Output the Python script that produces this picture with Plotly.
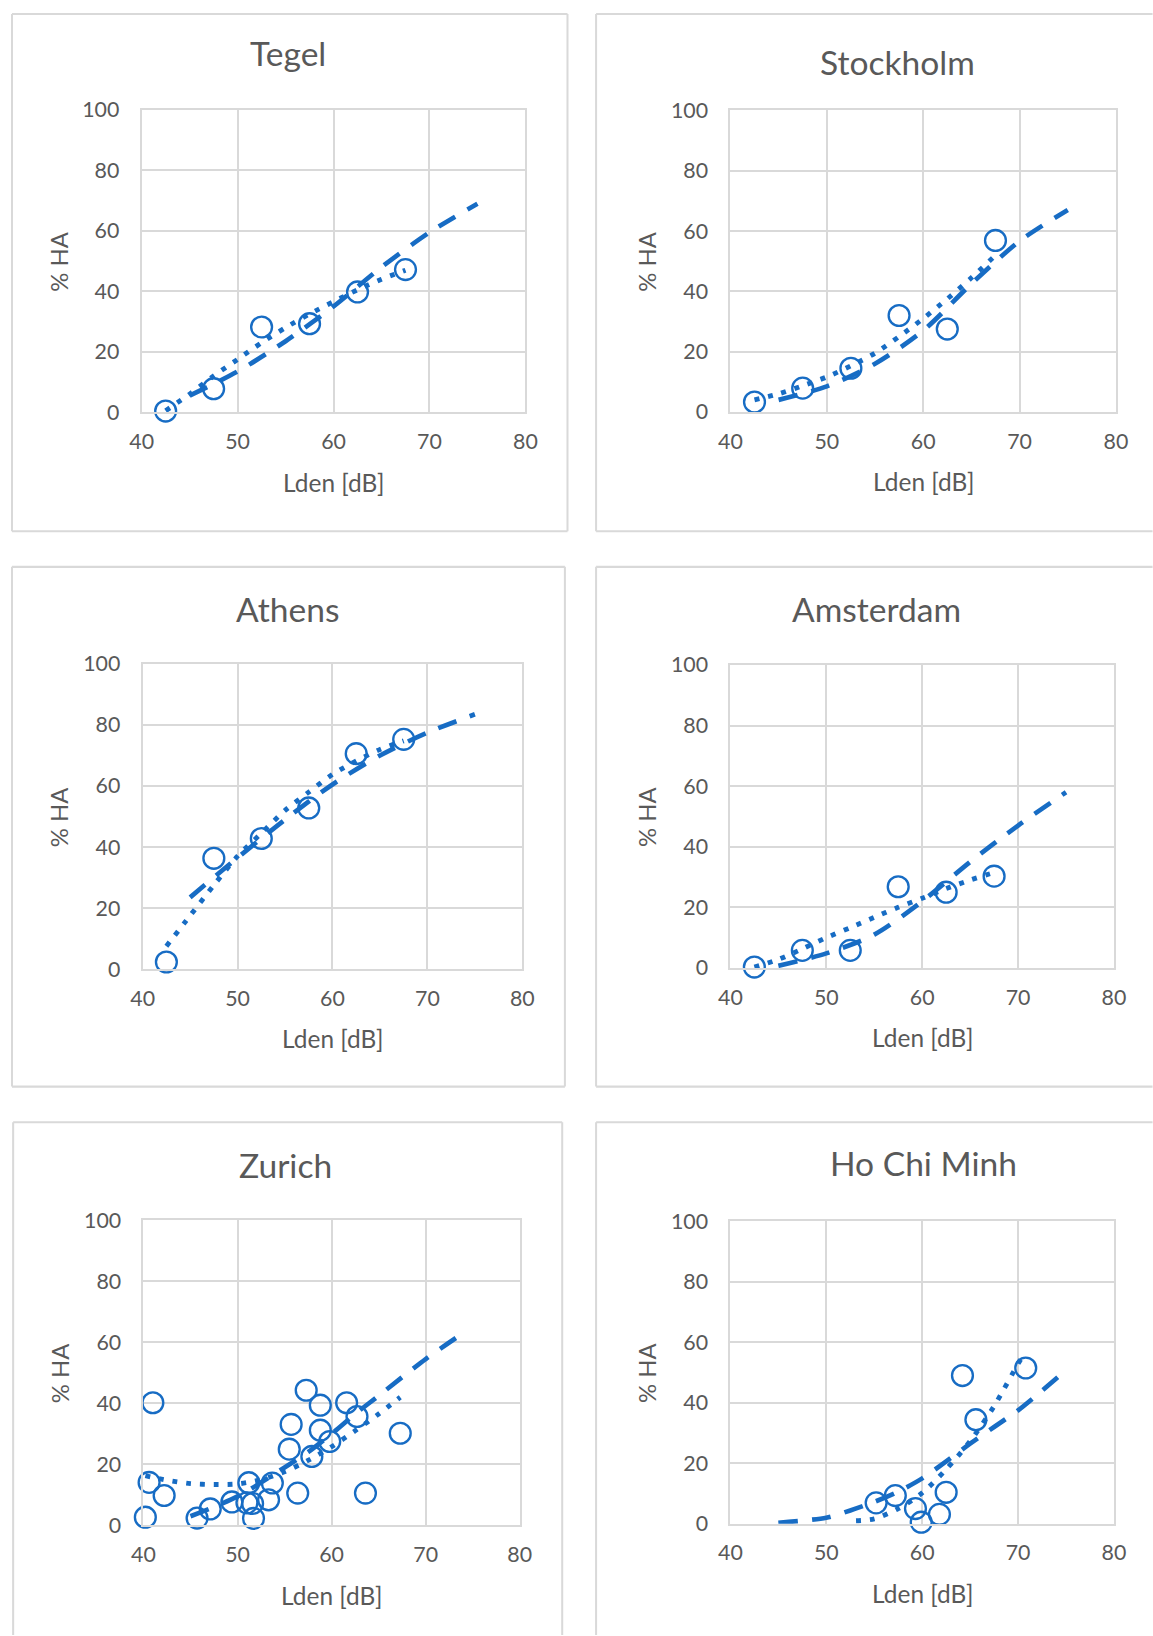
import plotly.graph_objects as go

# The photographed page shows the figure slightly reduced and offset; the
# geometry below is given in target page pixels and mapped into figure pixels.
PAGE_W, PAGE_H = 1153, 1636
SX, SY = 0.980, 0.986      # apparent reduction of the figure in the photo
M = 12                     # apparent offset of the figure origin (figure px)
SC = 1 / 0.983             # size compensation for fonts / markers / lines
W = int(round(PAGE_W / SX - M))
H = int(round(PAGE_H / SY - M))

BLUE = "#176cc4"
GRID = "#d9d9d9"
TEXT = "#595959"
FONT = "Lato"

cities = ["Tegel", "Stockholm", "Athens", "Amsterdam", "Zurich", "Ho Chi Minh"]
x_ticks = [40, 50, 60, 70, 80]
y_ticks = [0, 20, 40, 60, 80, 100]
x_label = "Lden [dB]"
y_label = "% HA"

# ---------------- Tegel ----------------
tegel_lden = [42.5, 47.5, 52.5, 57.5, 62.5, 67.5]
tegel_ha = [0.4, 7.8, 28.2, 29.3, 39.8, 47.2]
tegel_dash_lden = [45, 50, 55, 60, 65, 70, 75]
tegel_dash_ha = [5.5, 13.5, 23.5, 35, 48, 59.5, 69]
tegel_dot_lden = [42.5, 45, 47.5, 50, 52.5, 55, 57.5, 60, 62.5, 65, 67.5]
tegel_dot_ha = [0.5, 6, 12, 17.5, 23, 28, 32.5, 36.6, 40.5, 44, 47]

# ---------------- Stockholm ----------------
stockholm_lden = [42.5, 47.5, 52.5, 57.5, 62.5, 67.5]
stockholm_ha = [3.3, 7.9, 14.5, 32.0, 27.5, 56.9]
stockholm_dash_lden = [45, 50, 55, 60, 65, 70, 75]
stockholm_dash_ha = [4, 8.5, 16, 27, 42.5, 56.7, 67]
stockholm_dot_lden = [42.5, 45, 47.5, 50, 52.5, 55, 57.5, 60, 62.5, 65, 67.5]
stockholm_dot_ha = [4, 6, 8.7, 11.6, 15.3, 19.5, 25, 31, 37.5, 44.5, 52]

# ---------------- Athens ----------------
athens_lden = [42.5, 47.5, 52.5, 57.5, 62.5, 67.5]
athens_ha = [2.3, 36.3, 42.8, 52.8, 70.6, 75.3]
athens_dash_lden = [45, 50, 55, 60, 65, 70, 75]
athens_dash_ha = [23.5, 36.5, 49, 60.5, 70, 77.5, 83.5]
athens_dot_lden = [42.5, 45, 47.5, 50, 52.5, 55, 57.5, 60, 62.5, 65, 67.5]
athens_dot_ha = [7.5, 17.5, 27.5, 37, 44.5, 52, 58, 63.8, 68.2, 72, 74.8]

# ---------------- Amsterdam ----------------
amsterdam_lden = [42.5, 47.5, 52.5, 57.5, 62.5, 67.5]
amsterdam_ha = [0.3, 5.8, 5.8, 26.8, 25.0, 30.3]
amsterdam_dash_lden = [45, 50, 55, 60, 65, 70, 75]
amsterdam_dash_ha = [0.7, 4.8, 11, 22, 35, 47, 58]
amsterdam_dot_lden = [42.5, 45, 47.5, 50, 52.5, 55, 57.5, 60, 62.5, 65, 67.5]
amsterdam_dot_ha = [0.3, 2.8, 6.3, 10, 13.3, 16.7, 20, 23, 26.2, 29, 31.5]

# ---------------- Zurich ----------------
zurich_lden = [40.2, 40.6, 41.0, 42.2, 45.7, 47.1, 49.4, 51.0, 51.2, 51.6, 51.7,
               53.3, 53.7, 55.5, 55.7, 56.4, 57.3, 57.9, 58.8, 58.8, 59.8, 61.6,
               62.7, 63.6, 67.3]
zurich_ha = [2.7, 14.1, 40.2, 9.8, 2.4, 5.4, 7.7, 7.4, 14.0, 7.2, 2.3,
             8.4, 13.9, 25.0, 33.1, 10.6, 44.3, 22.6, 39.4, 31.2, 27.5, 40.2,
             35.7, 10.6, 30.2]
zurich_dash_lden = [45, 50, 55, 57.5, 60, 62.5, 65, 70, 74.2]
zurich_dash_ha = [3, 9.5, 19, 24, 30, 36.5, 42.5, 54.5, 63.5]
zurich_dot_lden = [40.2, 42.5, 45, 47.5, 50, 52.5, 55, 57.5, 60, 62.5, 65, 67.3]
zurich_dot_ha = [16.3, 14.8, 13.7, 13.4, 13.6, 15, 17.6, 21.3, 25.8, 31, 36.5, 42]

# ---------------- Ho Chi Minh ----------------
hcm_lden = [53.1, 55.2, 57.2, 59.3, 59.9, 61.8, 62.5, 64.2, 65.6, 70.8]
hcm_ha = [-0.2, 6.9, 9.3, 5.0, 0.5, 3.1, 10.4, 49.0, 34.4, 51.5]
hcm_dash_lden = [45, 50, 52.5, 55, 57.5, 60, 62.5, 65, 67.5, 70, 72.5, 75]
hcm_dash_ha = [0.3, 2.0, 4.4, 7.2, 10.6, 15, 20.6, 26.5, 32, 37.5, 44, 50.8]
hcm_dot_lden = [53.1, 55, 57.5, 60, 62.5, 65, 67.5, 70, 70.6]
hcm_dot_ha = [1.0, 1.6, 5.0, 10.2, 18.0, 27.3, 38.9, 52.9, 56]

panels = [
    (tegel_lden, tegel_ha, tegel_dash_lden, tegel_dash_ha, tegel_dot_lden, tegel_dot_ha),
    (stockholm_lden, stockholm_ha, stockholm_dash_lden, stockholm_dash_ha, stockholm_dot_lden, stockholm_dot_ha),
    (athens_lden, athens_ha, athens_dash_lden, athens_dash_ha, athens_dot_lden, athens_dot_ha),
    (amsterdam_lden, amsterdam_ha, amsterdam_dash_lden, amsterdam_dash_ha, amsterdam_dot_lden, amsterdam_dot_ha),
    (zurich_lden, zurich_ha, zurich_dash_lden, zurich_dash_ha, zurich_dot_lden, zurich_dot_ha),
    (hcm_lden, hcm_ha, hcm_dash_lden, hcm_dash_ha, hcm_dot_lden, hcm_dot_ha),
]

# ---- layout geometry (target page pixels) ----
plot_px = [  # x0, x1, y_top, y_bottom
    (141.5, 525.5, 108.0, 410.8),
    (730.6, 1116.4, 108.5, 410.5),
    (142.5, 522.4, 663.0, 968.6),
    (730.6, 1114.4, 664.0, 967.5),
    (143.3, 519.8, 1220.3, 1526.0),
    (730.6, 1114.4, 1221.4, 1524.3),
]
# panel frames: x0, x1, y_top, y_bottom; None = runs off the page edge (side not drawn)
box_px = [
    (8.0, 567.6, 9.6, 530.0),
    (596.2, None, 9.6, 530.0),
    (10.3, 565.0, 565.7, 1086.4),
    (596.2, None, 565.7, 1086.4),
    (12.9, 562.3, 1122.2, None),
    (596.2, None, 1122.2, None),
]
title_px = [(288, 51), (897.6, 59.5), (287, 607.5), (876.3, 607.5), (285.6, 1164.5), (923.7, 1162.5)]


def fx(px):
    return min(max((px / SX - M) / W, 0.0), 1.0)


def fy(py):
    return min(max(1 - (py / SY - M) / H, 0.0), 1.0)


def s(v):
    return round(v * SC, 2)


fig = go.Figure()
layout = dict(
    width=W, height=H,
    margin=dict(l=0, r=0, t=0, b=0),
    paper_bgcolor="white", plot_bgcolor="white",
    showlegend=False,
    font=dict(family=FONT, color=TEXT),
)
shapes = []
annotations = []


def frame_line(xa0, ya0, xa1, ya1):
    return dict(type="line", xref="paper", yref="paper",
                x0=fx(xa0), y0=fy(ya0), x1=fx(xa1), y1=fy(ya1),
                line=dict(color=GRID, width=s(2)), layer="below")


dash_pat = f"{s(19)}px,{s(14)}px"
dot_pat = f"{s(4.8)}px,{s(8.8)}px"

for i, (name, data) in enumerate(zip(cities, panels)):
    k = "" if i == 0 else str(i + 1)
    xa, ya = "x" + k, "y" + k
    lx, ly, dlx, dly, tlx, tly = data
    fig.add_trace(go.Scatter(
        x=dlx, y=dly, mode="lines", xaxis=xa, yaxis=ya,
        line=dict(color=BLUE, width=s(4.6), dash=dash_pat, shape="spline", smoothing=0.8),
        hoverinfo="skip"))
    fig.add_trace(go.Scatter(
        x=tlx, y=tly, mode="lines", xaxis=xa, yaxis=ya,
        line=dict(color=BLUE, width=s(4.8), dash=dot_pat, shape="spline", smoothing=0.8),
        hoverinfo="skip"))
    fig.add_trace(go.Scatter(
        x=lx, y=ly, mode="markers", xaxis=xa, yaxis=ya, cliponaxis=False,
        marker=dict(symbol="circle-open", size=s(20.5), color=BLUE,
                    line=dict(width=s(2.3), color=BLUE)),
        name=name))

    x0, x1, yt, yb = plot_px[i]
    axis_common = dict(
        showgrid=True, gridcolor=GRID, gridwidth=s(2),
        showline=True, linecolor=GRID, linewidth=s(2), mirror=True,
        zeroline=False, ticks="", fixedrange=True,
        tickfont=dict(family=FONT, size=s(21), color=TEXT),
    )
    layout["xaxis" + k] = dict(
        axis_common, domain=[fx(x0), fx(x1)], anchor=ya,
        range=[40, 80], tickvals=x_ticks, ticktext=[str(v) for v in x_ticks],
        ticklabelstandoff=int(round(s(9))),
    )
    layout["yaxis" + k] = dict(
        axis_common, domain=[fy(yb), fy(yt)], anchor=xa,
        range=[0, 100], tickvals=y_ticks, ticktext=[str(v) for v in y_ticks],
        ticklabelstandoff=int(round(s(16))),
    )

    bx0, bx1, byt, byb = box_px[i]
    right = bx1 if bx1 is not None else PAGE_W
    bottom = byb if byb is not None else PAGE_H
    shapes.append(frame_line(bx0, byt, right, byt))          # top
    shapes.append(frame_line(bx0, byt, bx0, bottom))         # left
    if bx1 is not None:
        shapes.append(frame_line(bx1, byt, bx1, bottom))     # right
    if byb is not None:
        shapes.append(frame_line(bx0, byb, right, byb))      # bottom

    tx, ty = title_px[i]
    annotations.append(dict(text=name, xref="paper", yref="paper", x=fx(tx), y=fy(ty),
                            xanchor="center", yanchor="middle", showarrow=False,
                            font=dict(family=FONT, size=s(33), color=TEXT)))
    annotations.append(dict(text=x_label, xref="paper", yref="paper",
                            x=fx((x0 + x1) / 2), y=fy(yb + 70),
                            xanchor="center", yanchor="middle", showarrow=False,
                            font=dict(family=FONT, size=s(24), color=TEXT)))
    annotations.append(dict(text=y_label, xref="paper", yref="paper",
                            x=fx(x0 - 84), y=fy((yt + yb) / 2), textangle=-90,
                            xanchor="center", yanchor="middle", showarrow=False,
                            font=dict(family=FONT, size=s(23.5), color=TEXT)))

layout["shapes"] = shapes
layout["annotations"] = annotations
fig.update_layout(**layout)
fig.write_html("out.html")
